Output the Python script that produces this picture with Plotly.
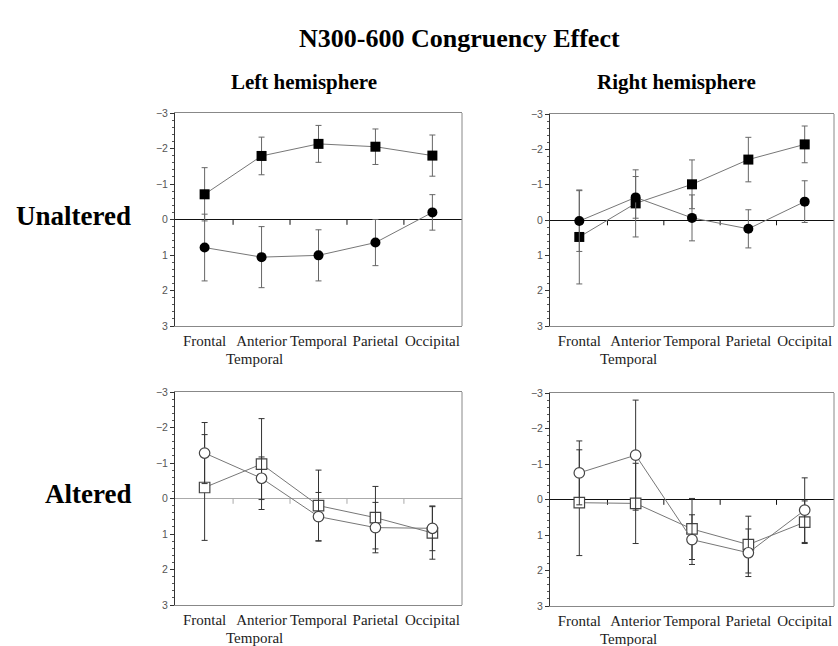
import plotly.graph_objects as go

categories = ["Frontal", "Anterior", "Temporal", "Parietal", "Occipital"]
second_line = ["", "Temporal", "", "", ""]
y_ticks = [-3, -2, -1, 0, 1, 2, 3]

# Unaltered, left hemisphere
ul_square = [-0.71, -1.79, -2.13, -2.05, -1.80]
ul_square_err = [0.75, 0.53, 0.52, 0.50, 0.58]
ul_circle = [0.79, 1.06, 1.01, 0.65, -0.20]
ul_circle_err = [0.94, 0.86, 0.72, 0.65, 0.50]
# Unaltered, right hemisphere
ur_square = [0.48, -0.47, -1.01, -1.71, -2.14]
ur_square_err = [1.33, 0.95, 0.69, 0.63, 0.52]
ur_circle = [0.03, -0.64, -0.06, 0.25, -0.52]
ur_circle_err = [0.86, 0.59, 0.65, 0.54, 0.59]
# Altered, left hemisphere
al_square = [-0.31, -0.97, 0.20, 0.54, 0.97]
al_square_err = [1.49, 1.28, 1.00, 0.88, 0.74]
al_circle = [-1.28, -0.57, 0.51, 0.82, 0.84]
al_circle_err = [0.86, 0.60, 0.68, 0.71, 0.63]
# Altered, right hemisphere
ar_square = [0.09, 0.11, 0.83, 1.27, 0.64]
ar_square_err = [1.49, 1.13, 0.86, 0.80, 0.60]
ar_circle = [-0.75, -1.25, 1.13, 1.50, 0.30]
ar_circle_err = [0.90, 1.55, 0.70, 0.67, 0.91]

W, H = 838, 646
xs = list(range(len(categories)))
mids = [i + 0.5 for i in range(len(categories) - 1)]

panels = [
    ("", (175, 462), (113, 326), [(ul_square, ul_square_err, "square"), (ul_circle, ul_circle_err, "circle")], True, "#111"),
    ("2", (550, 834), (114, 326), [(ur_square, ur_square_err, "square"), (ur_circle, ur_circle_err, "circle")], True, "#111"),
    ("3", (175, 462), (392, 605), [(al_square, al_square_err, "square"), (al_circle, al_circle_err, "circle")], False, "#aaa"),
    ("4", (550, 834), (393, 606), [(ar_square, ar_square_err, "square"), (ar_circle, ar_circle_err, "circle")], False, "#111"),
]

serif = "Liberation Serif"
fig = go.Figure()
layout = dict(
    width=W, height=H, margin=dict(l=0, r=0, t=0, b=0, pad=0),
    paper_bgcolor="white", plot_bgcolor="white", showlegend=False,
    shapes=[], annotations=[],
)

for suf, (x0, x1), (yt, yb), series, filled, zc in panels:
    xa, ya = "x" + suf, "y" + suf
    tx, ty = [], []
    for m in mids:
        tx += [m, m, None]
        ty += [0, 0.15, None]
    fig.add_trace(go.Scatter(x=tx, y=ty, mode="lines", xaxis=xa, yaxis=ya,
                             line=dict(color=zc, width=1), hoverinfo="skip"))
    for vals, errs, sym in series:
        if filled:
            marker = dict(symbol=sym, size=10, color="black",
                          line=dict(color="black", width=0))
            ecol = "#666"
        else:
            marker = dict(symbol=sym, size=10.5, color="white",
                          line=dict(color="#444", width=1.2))
            ecol = "#333"
        fig.add_trace(go.Scatter(
            x=xs, y=vals, mode="lines+markers", xaxis=xa, yaxis=ya,
            line=dict(color="#777", width=1), marker=marker,
            error_y=dict(type="data", array=errs, visible=True, color=ecol,
                         thickness=1, width=3),
        ))
    kx = "xaxis" + suf
    ky = "yaxis" + suf
    layout[kx] = dict(
        domain=[x0 / W, x1 / W], anchor=ya, range=[-0.52, 4.52],
        tickvals=xs, ticktext=categories, ticks="", tickangle=0,
        showgrid=False, zeroline=False,
        showline=True, linecolor="#888", linewidth=1, mirror=True,
        tickfont=dict(family=serif, size=15, color="#222"),
        ticklabelstandoff=1, automargin=False, fixedrange=True,
    )
    layout[ky] = dict(
        domain=[(H - yb) / H, (H - yt) / H], anchor=xa, range=[3, -3],
        tickvals=y_ticks, ticks="outside", ticklen=4, tickcolor="#333", tickwidth=1,
        minor=dict(dtick=0.2, ticks="outside", ticklen=2, tickcolor="#555", tickwidth=1),
        showgrid=False, zeroline=True, zerolinecolor=zc, zerolinewidth=1,
        showline=True, linecolor="#333", linewidth=1,
        tickfont=dict(family="Liberation Sans", size=10.5, color="#555"),
        automargin=False, fixedrange=True,
    )
    layout["shapes"].append(dict(type="line", xref=xa + " domain", yref=ya + " domain",
                                 x0=1, x1=1, y0=0, y1=1, line=dict(color="#888", width=1)))
    for i, t in enumerate(second_line):
        if t:
            layout["annotations"].append(dict(
                text=t, x=i, xref=xa, y=0, yref=ya + " domain", xanchor="center", yanchor="top",
                yshift=-23, xshift=-7, showarrow=False,
                font=dict(family=serif, size=15, color="#222")))

layout["annotations"] += [
    dict(text="<b>N300-600 Congruency Effect</b>", x=460 / W, y=(H - 38) / H, xref="paper", yref="paper",
         xanchor="center", yanchor="middle", showarrow=False,
         font=dict(family=serif, size=26, color="black")),
    dict(text="<b>Left hemisphere</b>", x=304 / W, y=(H - 82) / H, xref="paper", yref="paper",
         xanchor="center", yanchor="middle", showarrow=False,
         font=dict(family=serif, size=21, color="black")),
    dict(text="<b>Right hemisphere</b>", x=676 / W, y=(H - 82) / H, xref="paper", yref="paper",
         xanchor="center", yanchor="middle", showarrow=False,
         font=dict(family=serif, size=21, color="black")),
    dict(text="<b>Unaltered</b>", x=133 / W, y=(H - 216) / H, xref="paper", yref="paper",
         xanchor="right", yanchor="middle", showarrow=False,
         font=dict(family=serif, size=27, color="black")),
    dict(text="<b>Altered</b>", x=133 / W, y=(H - 494) / H, xref="paper", yref="paper",
         xanchor="right", yanchor="middle", showarrow=False,
         font=dict(family=serif, size=27, color="black")),
]

fig.update_layout(**layout)
fig.write_html("out.html", config={"displayModeBar": False},
               post_script="document.body.style.margin='0';document.body.style.overflow='hidden';")
